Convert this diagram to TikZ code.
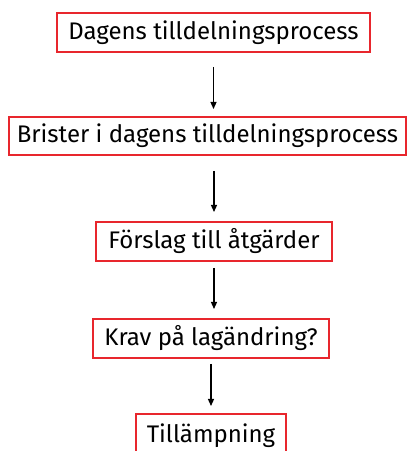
\documentclass[tikz,border=0pt]{standalone}
\usepackage{fontspec}
\setmainfont{Fira Sans}
\usetikzlibrary{arrows.meta}
\definecolor{boxred}{RGB}{232,38,45}
\begin{document}
\begin{tikzpicture}[x=1pt,y=1pt,
  box/.style={draw=boxred,line width=2pt,inner sep=0pt,anchor=center,
    font=\fontsize{24}{27}\selectfont,text=black},
  arr/.style={-{Triangle[length=7pt,width=6pt]},line width=1.2pt,black}]
\useasboundingbox (0,0) rectangle (409,451);
\node[box,minimum width=313pt,minimum height=39pt] (b1) at (213.5,418.5) {Dagens tilldelningsprocess};
\node[box,minimum width=397pt,minimum height=38pt] (b2) at (207.5,315) {Brister i dagens tilldelningsprocess};
\node[box,minimum width=236pt,minimum height=39pt] (b3) at (214,209.5) {Förslag till åtgärder};
\node[box,minimum width=236pt,minimum height=39pt] (b4) at (211,112.5) {Krav på lagändring?};
\node[box,minimum width=150pt,minimum height=44pt] (b5) at (211,15) {Tillämpning};
\draw[arr,shorten <=14pt,shorten >=7pt] (b1.south) -- (b1.south |- b2.north);
\draw[arr,shorten <=15pt,shorten >=9pt] (b3.north |- b2.south) -- (b3.north);
\draw[arr,shorten <=6pt,shorten >=9pt] (b3.south) -- (b3.south |- b4.north);
\draw[arr,shorten <=5pt,shorten >=7pt] (b4.south) -- (b4.south |- b5.north);
\end{tikzpicture}
\end{document}
